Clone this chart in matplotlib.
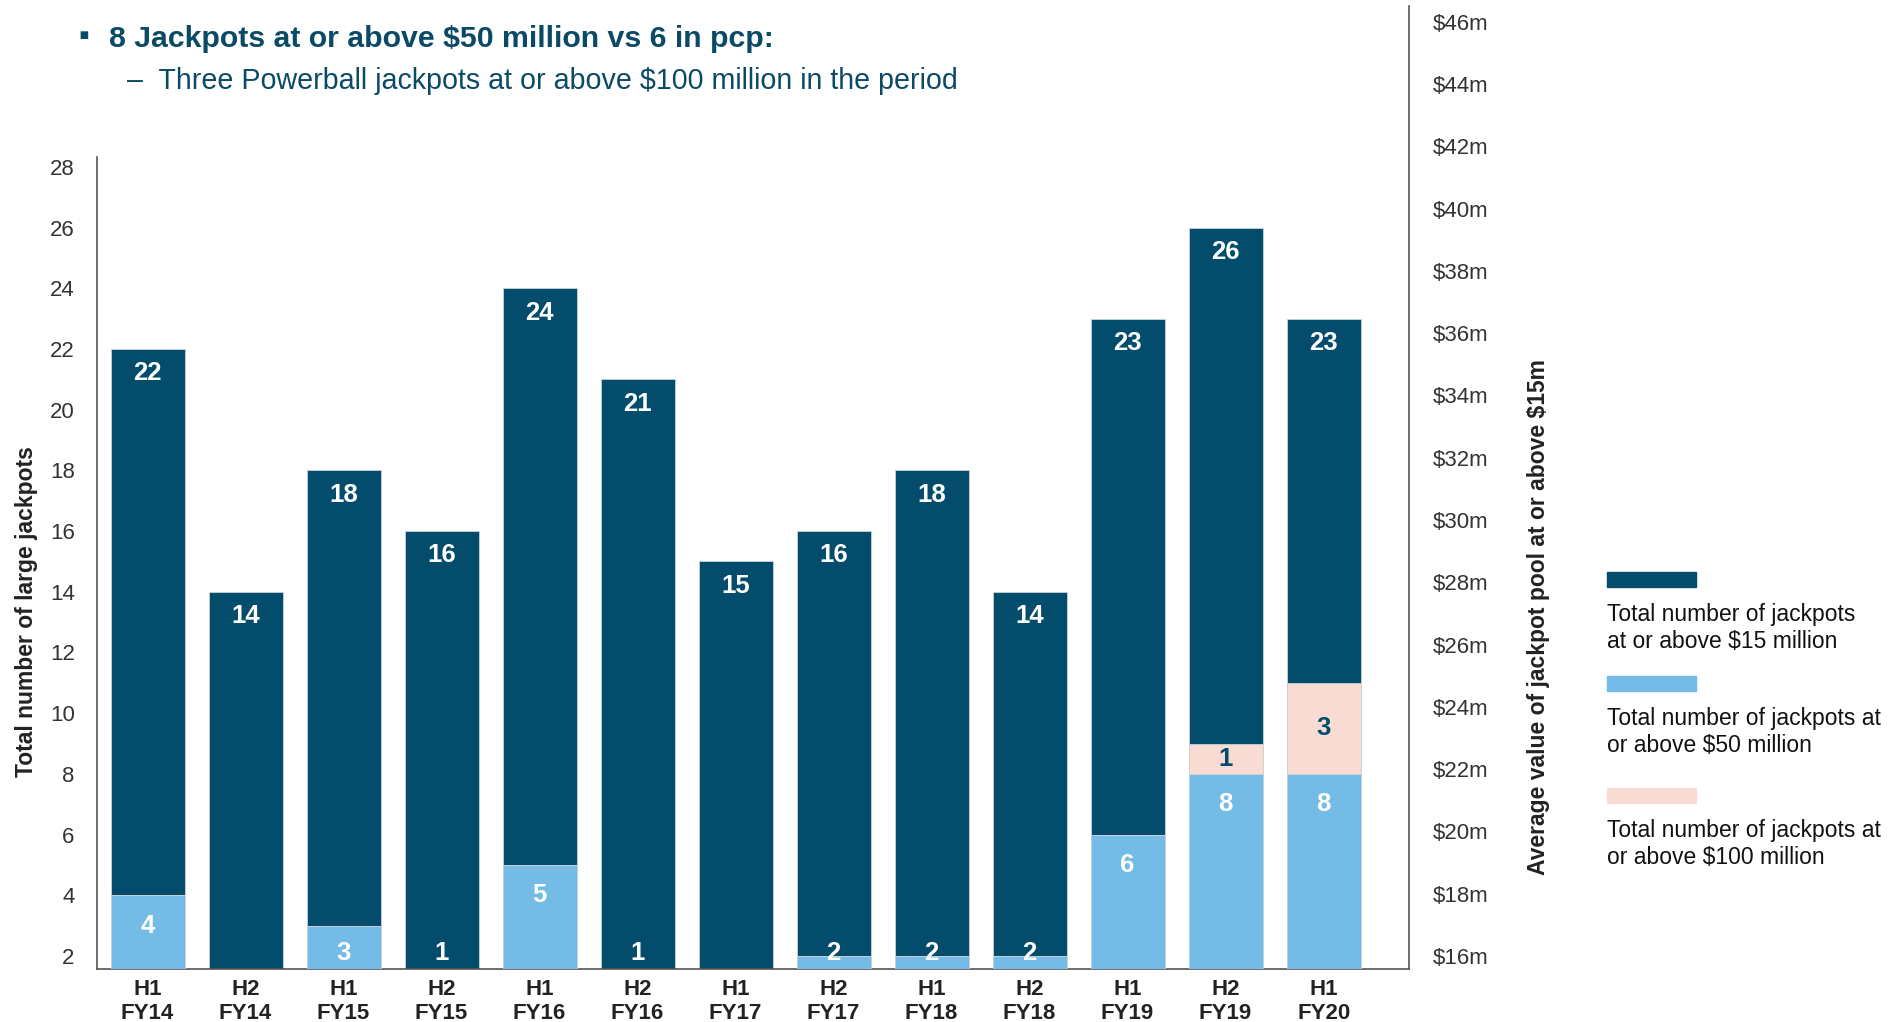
import numpy as np
import matplotlib
matplotlib.use("Agg")
import matplotlib.pyplot as plt

plt.rcParams['font.family'] = ['Liberation Sans', 'DejaVu Sans']

# half-year periods
halves = ["H1", "H2", "H1", "H2", "H1", "H2", "H1", "H2", "H1", "H2", "H1", "H2", "H1"]
years = ["FY14", "FY14", "FY15", "FY15", "FY16", "FY16", "FY17", "FY17",
         "FY18", "FY18", "FY19", "FY19", "FY20"]

# jackpot counts
total_15m = [22, 14, 18, 16, 24, 21, 15, 16, 18, 14, 23, 26, 23]
over_50m = [4, 0, 3, 1, 5, 1, 0, 2, 2, 2, 6, 8, 8]
over_100m = [0, 0, 0, 0, 0, 0, 0, 0, 0, 0, 0, 1, 3]

left_ticks = list(range(2, 29, 2))
right_ticks = list(range(16, 47, 2))

dark = "#034c6b"
light = "#74bbe6"
pink = "#f8dcd3"
navy_text = "#0b4a66"
grey_text = "#333333"

fig = plt.figure(figsize=(18.97, 10.22), dpi=100)

# right axis sits behind and reaches higher than the bar axis
ax2 = fig.add_axes([0.0511, 0.0519, 0.6916, 0.9423])
ax = fig.add_axes([0.0511, 0.0519, 0.6916, 0.7945])

x = np.arange(len(total_15m))
w = 0.755

ax.bar(x, total_15m, width=w, color=dark, edgecolor="#c9d3d8", linewidth=0.6, zorder=2)
ax.bar(x, over_50m, width=w, color=light, edgecolor="#c9d3d8", linewidth=0.6, zorder=3)
ax.bar(x, over_100m, width=w, bottom=over_50m, color=pink, edgecolor="#c9d3d8",
       linewidth=0.6, zorder=3)

for i in x:
    ax.text(i, total_15m[i] - 0.8, str(total_15m[i]), ha="center", va="center",
            color="white", fontsize=18.5, fontweight="bold", zorder=5)
    if over_50m[i] > 0:
        ylab = max(over_50m[i] - 1.0, 2.1)
        ax.text(i, ylab, str(over_50m[i]), ha="center", va="center",
                color="white", fontsize=18.5, fontweight="bold", zorder=5)
    if over_100m[i] > 0:
        ax.text(i, over_50m[i] + over_100m[i] / 2, str(over_100m[i]), ha="center",
                va="center", color=dark, fontsize=18.5, fontweight="bold", zorder=5)

ax.set_xlim(-0.516, 12.87)
ax.set_ylim(1.57, 28.33)
ax.set_yticks(left_ticks)
ax.set_yticklabels([str(t) for t in left_ticks])
ax.set_xticks(x)
ax.set_xticklabels([h + "\n" + y for h, y in zip(halves, years)], fontsize=16,
                   fontweight="bold", color="#222222", linespacing=1.2)
ax.tick_params(axis="y", length=0, pad=16, labelsize=16, labelcolor=grey_text)
ax.tick_params(axis="x", length=0, pad=7)
for s in ["top", "right"]:
    ax.spines[s].set_visible(False)
ax.spines["left"].set_color("#555555")
ax.spines["bottom"].set_color("#555555")
ax.spines["left"].set_linewidth(1.2)
ax.spines["bottom"].set_linewidth(1.2)
ax.patch.set_alpha(0)
ax.set_ylabel("Total number of large jackpots", fontsize=16.5, fontweight="bold",
              color="#222222")
ax.yaxis.set_label_coords(-0.045, 0.44)

ax2.set_xlim(0, 1)
ax2.set_ylim(15.58, 46.51)
ax2.set_xticks([])
ax2.yaxis.tick_right()
ax2.set_yticks(right_ticks)
ax2.set_yticklabels(["$%dm" % t for t in right_ticks])
ax2.tick_params(axis="y", length=0, pad=17, labelsize=16, labelcolor=grey_text)
for s in ["top", "left", "bottom"]:
    ax2.spines[s].set_visible(False)
ax2.spines["right"].set_color("#555555")
ax2.spines["right"].set_linewidth(1.2)
ax2.yaxis.set_label_position("right")
ax2.set_ylabel("Average value of jackpot pool at or above $15m", fontsize=16.5,
               fontweight="bold", color="#222222", rotation=90)
ax2.yaxis.set_label_coords(1.09, 0.365)

# headline text
fig.text(0.0415, 0.964, "▪", fontsize=22, color=navy_text, va="center",
         family=['Liberation Sans', 'DejaVu Sans'])
fig.text(0.0575, 0.962, "8 Jackpots at or above $50 million vs 6 in pcp:", fontsize=21.8,
         fontweight="bold", color=navy_text, va="center")
fig.text(0.067, 0.921, "–  Three Powerball jackpots at or above $100 million in the period",
         fontsize=20.6, color=navy_text, va="center")

# legend on the right
legend_items = [
    (dark, "Total number of jackpots\nat or above $15 million", 0.4257),
    (light, "Total number of jackpots at\nor above $50 million", 0.3240),
    (pink, "Total number of jackpots at\nor above $100 million", 0.2144),
]
for col, label, yb in legend_items:
    fig.patches.append(plt.Rectangle((0.8471, yb), 0.0469, 0.0147, color=col,
                                     transform=fig.transFigure, figure=fig))
    fig.text(0.8471, yb - 0.016, label, fontsize=16.5, color="#111111", va="top",
             linespacing=1.2)

fig.savefig("out.png", dpi=100)
